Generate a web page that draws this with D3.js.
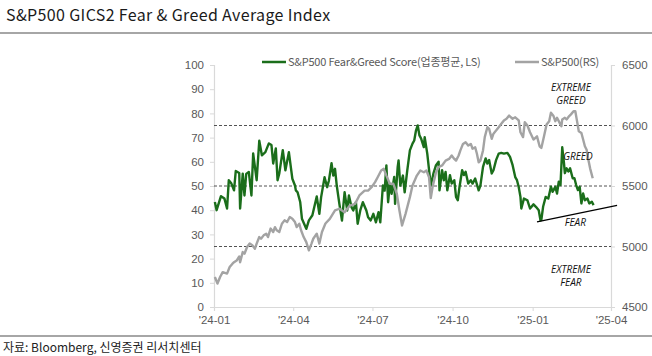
<!DOCTYPE html>
<html><head><meta charset="utf-8">
<script src="https://cdn.jsdelivr.net/npm/d3@7"></script>
<style>
html,body{margin:0;padding:0;background:#fff;}
svg{display:block;font-family:"Noto Sans CJK KR","Noto Sans",sans-serif;}
</style></head>
<body>
<svg id="c" width="652" height="356"></svg>
<script>
// ---------- data ----------
const titleText = "S&P500 GICS2 Fear & Greed Average Index";
const sourceText = "자료: Bloomberg, 신영증권 리서치센터";
const seriesNames = ["S&P500 Fear&Greed Score(업종평균, LS)", "S&P500(RS)"];
const xTickDates = ["2024-01-01","2024-04-01","2024-07-01","2024-10-01","2025-01-01","2025-04-01"];
const leftTicks = [0,10,20,30,40,50,60,70,80,90,100];
const rightTicks = [4500,5000,5500,6000,6500];
const zoneLevels = [75,50,25];

const fgDates = ["2024-01-02","2024-01-04","2024-01-09","2024-01-13","2024-01-16","2024-01-18","2024-01-21","2024-01-24","2024-01-26","2024-01-30",
"2024-01-31","2024-02-03","2024-02-05","2024-02-07","2024-02-10","2024-02-13","2024-02-15","2024-02-19","2024-02-22","2024-02-25",
"2024-02-29","2024-03-04","2024-03-07","2024-03-09","2024-03-12","2024-03-14","2024-03-16","2024-03-20","2024-03-23","2024-03-27",
"2024-03-31","2024-04-03","2024-04-04","2024-04-06","2024-04-09","2024-04-11","2024-04-16","2024-04-19","2024-04-23","2024-04-28",
"2024-05-01","2024-05-03","2024-05-07","2024-05-10","2024-05-12","2024-05-15","2024-05-17","2024-05-19","2024-05-21","2024-05-24",
"2024-05-27","2024-05-30","2024-06-02","2024-06-04","2024-06-07","2024-06-09","2024-06-12","2024-06-14","2024-06-17","2024-06-20",
"2024-06-24","2024-06-26","2024-06-29","2024-07-02","2024-07-05","2024-07-08","2024-07-10","2024-07-13","2024-07-15","2024-07-17",
"2024-07-19","2024-07-21","2024-07-23","2024-07-26","2024-07-27","2024-07-30","2024-07-31","2024-08-02","2024-08-05","2024-08-07",
"2024-08-10","2024-08-13","2024-08-16","2024-08-18","2024-08-20","2024-08-22","2024-08-24","2024-08-26","2024-08-29","2024-08-30",
"2024-09-02","2024-09-06","2024-09-09","2024-09-12","2024-09-15","2024-09-16","2024-09-19","2024-09-21","2024-09-23","2024-09-25",
"2024-09-28","2024-09-30","2024-10-03","2024-10-05","2024-10-07","2024-10-09","2024-10-12","2024-10-14","2024-10-16","2024-10-19",
"2024-10-22","2024-10-24","2024-10-27","2024-10-31","2024-11-02","2024-11-05","2024-11-08","2024-11-10","2024-11-12","2024-11-15",
"2024-11-17","2024-11-20","2024-11-23","2024-11-26","2024-11-29","2024-12-03","2024-12-06","2024-12-09","2024-12-12","2024-12-14",
"2024-12-16","2024-12-18","2024-12-19","2024-12-22","2024-12-26","2024-12-29","2025-01-02","2025-01-05","2025-01-08","2025-01-10",
"2025-01-11","2025-01-13","2025-01-16","2025-01-19","2025-01-22","2025-01-24","2025-01-27","2025-01-29","2025-01-31","2025-02-02",
"2025-02-04","2025-02-06","2025-02-07","2025-02-09","2025-02-11","2025-02-13","2025-02-16","2025-02-18","2025-02-20","2025-02-22",
"2025-02-24","2025-02-26","2025-02-28","2025-03-02","2025-03-05","2025-03-07","2025-03-10","2025-03-12"];
const fgScores = [43.4,40.0,45.8,44.8,40.7,52.4,51.0,48.2,56.2,55.4,
40.7,55.1,46.1,55.0,55.8,46.1,63.4,52.4,68.7,62.7,
64.0,67.6,66.9,59.3,65.5,52.4,55.2,64.8,56.5,64.0,
53.0,50.2,48.2,47.4,43.4,36.5,32.3,35.8,37.9,45.7,
38.5,45.3,53.6,49.5,52.3,59.4,54.3,57.1,50.2,42.6,
35.7,47.4,39.9,46.1,41.2,39.9,43.3,34.4,39.9,43.3,
39.9,37.1,35.8,38.5,35.0,39.2,35.0,50.2,48.1,58.5,
43.3,50.9,46.8,53.7,42.6,57.9,60.6,50.2,54.3,47.4,
56.5,64.7,67.5,68.8,72.9,75.0,70.9,69.5,66.1,70.2,
63.3,50.2,55.1,58.6,60.0,48.2,56.5,52.4,55.8,48.2,
54.5,51.0,52.4,45.5,44.1,49.6,56.5,54.5,55.9,51.0,
52.4,51.0,53.1,48.2,50.2,57.9,61.4,59.3,60.7,55.2,
56.5,60.7,63.4,63.7,63.4,63.7,62.0,58.6,53.7,52.4,
49.6,45.5,40.7,44.8,44.1,40.7,42.4,41.3,40.0,35.8,
36.0,41.4,45.5,44.8,49.7,47.6,49.7,46.9,51.8,50.4,
66.0,59.4,55.3,57.3,56.0,57.3,53.2,53.2,50.4,48.3,
49.7,42.8,46.9,44.1,44.8,42.8,43.5,42.1];

const spxDates = ["2024-01-02","2024-01-05","2024-01-08","2024-01-11","2024-01-16","2024-01-19","2024-01-22","2024-01-24","2024-01-27","2024-01-30",
"2024-01-31","2024-02-03","2024-02-05","2024-02-08","2024-02-11","2024-02-14","2024-02-17","2024-02-19","2024-02-22","2024-02-24",
"2024-02-27","2024-03-01","2024-03-03","2024-03-06","2024-03-09","2024-03-11","2024-03-13","2024-03-16","2024-03-19","2024-03-22",
"2024-03-25","2024-03-28","2024-03-31","2024-04-03","2024-04-05","2024-04-08","2024-04-10","2024-04-13","2024-04-16","2024-04-19",
"2024-04-22","2024-04-24","2024-04-28","2024-05-01","2024-05-04","2024-05-08","2024-05-13","2024-05-19","2024-05-24","2024-05-30",
"2024-06-05","2024-06-11","2024-06-16","2024-06-22","2024-06-26","2024-06-30","2024-07-04","2024-07-07","2024-07-11","2024-07-14",
"2024-07-17","2024-07-21","2024-07-25","2024-07-29","2024-08-01","2024-08-04","2024-08-08","2024-08-13","2024-08-16","2024-08-21",
"2024-08-25","2024-08-29","2024-09-01","2024-09-04","2024-09-06","2024-09-08","2024-09-12","2024-09-15","2024-09-19","2024-09-23",
"2024-09-27","2024-09-30","2024-10-03","2024-10-05","2024-10-08","2024-10-10","2024-10-13","2024-10-16","2024-10-19","2024-10-22",
"2024-10-24","2024-10-27","2024-10-29","2024-10-31","2024-11-02","2024-11-05","2024-11-07","2024-11-10","2024-11-12","2024-11-15",
"2024-11-17","2024-11-20","2024-11-23","2024-11-26","2024-11-29","2024-12-02","2024-12-05","2024-12-07","2024-12-09","2024-12-12",
"2024-12-16","2024-12-18","2024-12-21","2024-12-23","2024-12-26","2024-12-29","2025-01-02","2025-01-06","2025-01-09","2025-01-11",
"2025-01-14","2025-01-17","2025-01-20","2025-01-22","2025-01-25","2025-01-27","2025-01-29","2025-02-01","2025-02-03","2025-02-04",
"2025-02-07","2025-02-09","2025-02-12","2025-02-14","2025-02-17","2025-02-19","2025-02-21","2025-02-23","2025-02-26","2025-02-28",
"2025-03-02","2025-03-04","2025-03-06","2025-03-08","2025-03-11"];
const spxValues = [4748,4694,4748,4788,4776,4830,4856,4870,4884,4918,
4870,4954,4940,4996,5024,5010,4982,5024,5078,5064,
5092,5106,5078,5148,5120,5160,5134,5120,5188,5216,
5202,5244,5230,5202,5160,5188,5134,5078,5036,4968,
5024,5064,5106,5024,5120,5190,5228,5298,5312,5284,
5338,5352,5422,5462,5462,5490,5532,5572,5628,5642,
5586,5518,5518,5436,5298,5174,5270,5408,5504,5586,
5628,5614,5628,5572,5400,5490,5614,5656,5670,5710,
5724,5752,5724,5710,5752,5794,5848,5862,5834,5848,
5808,5820,5766,5696,5710,5794,5904,5986,5972,5890,
5932,5958,5986,6014,6042,6056,6082,6068,6056,6068,
6042,5944,5904,6028,6000,5944,5884,5910,5828,5814,
5910,6008,6036,6106,6078,6036,6064,6022,5994,6050,
6064,6050,6078,6092,6118,6118,6036,5952,5938,5884,
5828,5800,5716,5646,5564];

// annotations: [text lines, date, left-axis value]
const zoneLabels = [
  {lines:["EXTREME","GREED"], date:"2025-02-14", value:88},
  {lines:["GREED"], date:"2025-02-22", value:62},
  {lines:["FEAR"], date:"2025-02-19", value:35},
  {lines:["EXTREME","FEAR"], date:"2025-02-14", value:13}
];
const fearTrend = [{date:"2025-01-06", value:35.2},{date:"2025-04-08", value:42.0}];

// ---------- drawing ----------
const parse = d3.timeParse("%Y-%m-%d");
const svg = d3.select("#c");
const W = 652, H = 356;
const m = {left:214, right:611, top:65, bottom:307};

const x = d3.scaleTime().domain([parse("2024-01-01"), parse("2025-04-01")]).range([m.left, m.right]);
const yL = d3.scaleLinear().domain([0,100]).range([m.bottom, m.top]);
const yR = d3.scaleLinear().domain([4500,6500]).range([m.bottom, m.top]);

// title & rules
svg.append("text").attr("x",6).attr("y",21).attr("font-size",16).attr("fill","#1a1a1a")
  .attr("font-weight",400).attr("letter-spacing",0.35).text(titleText);
svg.append("line").attr("x1",0).attr("x2",W).attr("y1",33).attr("y2",33).attr("stroke","#a6a6a6").attr("stroke-width",2);
svg.append("line").attr("x1",0).attr("x2",W).attr("y1",336).attr("y2",336).attr("stroke","#a6a6a6").attr("stroke-width",2);
svg.append("text").attr("x",3).attr("y",352).attr("font-size",12).attr("fill","#222").text(sourceText);

// axes
const axisColor = "#d9d9d9", labelColor = "#595959";
const tickFont = '"Liberation Sans",Arial,sans-serif';
const gL = svg.append("g").attr("transform",`translate(${m.left},0)`)
  .call(d3.axisLeft(yL).tickValues(leftTicks).tickSize(4).tickPadding(6));
const gR = svg.append("g").attr("transform",`translate(${m.right},0)`)
  .call(d3.axisRight(yR).tickValues(rightTicks).tickFormat(d3.format("d")).tickSize(4).tickPadding(7));
const gX = svg.append("g").attr("transform",`translate(0,${m.bottom})`)
  .call(d3.axisBottom(x).tickValues(xTickDates.map(parse)).tickFormat(d3.timeFormat("'%y-%m")).tickSize(4).tickPadding(5));
[gL,gR,gX].forEach(g=>{
  g.select(".domain").attr("stroke",axisColor).attr("stroke-width",1.2);
  g.selectAll(".tick line").attr("stroke",axisColor);
  g.selectAll(".tick text").attr("fill",labelColor).attr("font-size",11.5)
    .attr("font-family",tickFont);
});

// dashed zone lines
svg.append("g").selectAll("line").data(zoneLevels).join("line")
  .attr("x1",m.left).attr("x2",m.right)
  .attr("y1",d=>yL(d)).attr("y2",d=>yL(d))
  .attr("stroke","#404040").attr("stroke-width",0.9).attr("stroke-dasharray","3,2");

// series
const fg = fgDates.map((d,i)=>({date:parse(d), v:fgScores[i]}));
const spx = spxDates.map((d,i)=>({date:parse(d), v:spxValues[i]}));
svg.append("path").datum(fg).attr("fill","none").attr("stroke","#1b6e1b").attr("stroke-width",2.4)
  .attr("stroke-linejoin","round")
  .attr("d", d3.line().x(d=>x(d.date)).y(d=>yL(d.v)));
svg.append("path").datum(spx).attr("fill","none").attr("stroke","#a3a3a3").attr("stroke-width",2.4)
  .attr("stroke-linejoin","round")
  .attr("d", d3.line().x(d=>x(d.date)).y(d=>yR(d.v)));

// fear trendline
svg.append("line")
  .attr("x1",x(parse(fearTrend[0].date))).attr("y1",yL(fearTrend[0].value))
  .attr("x2",x(parse(fearTrend[1].date))).attr("y2",yL(fearTrend[1].value))
  .attr("stroke","#000").attr("stroke-width",1.3);

// zone labels
zoneLabels.forEach(z=>{
  const t = svg.append("text").attr("text-anchor","middle").attr("font-size",10)
    .attr("font-style","italic").attr("fill","#111")
    .attr("font-family",'"Open Sans","Noto Sans",sans-serif');
  const cx = x(parse(z.date)), cy = yL(z.value);
  z.lines.forEach((ln,i)=>{
    t.append("tspan").attr("x",cx).attr("y",cy + i*13 - (z.lines.length-1)*6.5 + 3.5).text(ln);
  });
});

// legend
const lg = svg.append("g");
const legendItems = [
  {name:seriesNames[0], color:"#1b6e1b", x0:262},
  {name:seriesNames[1], color:"#a3a3a3", x0:515}
];
legendItems.forEach(it=>{
  lg.append("line").attr("x1",it.x0).attr("x2",it.x0+24).attr("y1",62).attr("y2",62)
    .attr("stroke",it.color).attr("stroke-width",2.5);
  lg.append("text").attr("x",it.x0+26).attr("y",66).attr("font-size",11).attr("fill",labelColor)
    .attr("letter-spacing",-0.2).text(it.name);
});
</script>
</body></html>
